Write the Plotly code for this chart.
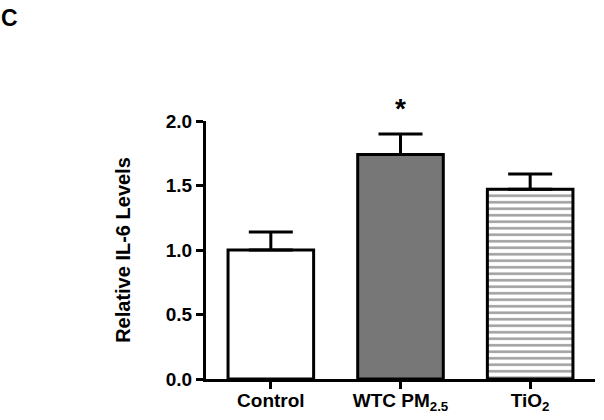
import plotly.graph_objects as go

# data
groups = ["Control", "WTC PM<sub>2.5</sub>", "TiO<sub>2</sub>"]
means = [1.00, 1.74, 1.47]
sem = [0.14, 0.16, 0.12]
y_ticks = [0.0, 0.5, 1.0, 1.5, 2.0]

fills = ["white", "#777777", "white"]
patterns = ["", "", "-"]

xpos = list(range(len(groups)))

fig = go.Figure()
fig.add_trace(go.Bar(
    x=xpos, y=means, width=0.66,
    marker=dict(
        color=fills,
        line=dict(color="black", width=3),
        pattern=dict(shape=patterns, fgcolor="black", bgcolor="white",
                     size=6.5, solidity=0.4, fillmode="overlay"),
    ),
    error_y=dict(type="data", array=sem, arrayminus=[0] * 3, symmetric=False,
                 color="black", thickness=3, width=22),
    cliponaxis=False,
))

bold = dict(family="Liberation Sans, Arial, sans-serif", size=19, color="black", weight="bold")

fig.update_layout(
    width=604, height=420,
    margin=dict(l=206, r=9, t=121, b=41),
    paper_bgcolor="white", plot_bgcolor="white",
    showlegend=False,
    font=bold,
    xaxis=dict(
        range=[-0.5, 2.5], tickmode="array", tickvals=xpos, ticktext=groups,
        showgrid=False, zeroline=False, showline=True, linecolor="black", linewidth=3,
        ticks="outside", ticklen=7, tickwidth=3, tickcolor="black",
        tickfont=bold, automargin=False, ticklabelstandoff=-5,
    ),
    yaxis=dict(
        range=[0, 2.0], tickmode="array", tickvals=y_ticks,
        ticktext=[f"{v:.1f}" for v in y_ticks],
        showgrid=False, zeroline=False, showline=True, linecolor="black", linewidth=3,
        ticks="outside", ticklen=7, tickwidth=3, tickcolor="black",
        tickfont=bold,
        title=dict(text="Relative IL-6 Levels", font=dict(bold, size=20), standoff=30),
    ),
)

# significance marker above WTC bar (paper coords so it is not hidden off-range)
fig.add_annotation(x=1, y=2.1 / 2.0, xref="x", yref="paper", text="*", showarrow=False,
                   font=dict(bold, size=28), yanchor="middle")
# panel letter
fig.add_annotation(x=-0.505, y=1.40, xref="paper", yref="paper", text="C", showarrow=False,
                   font=dict(bold, size=23), xanchor="center", yanchor="middle")

fig.write_html("out.html", config={"displayModeBar": False},
               post_script="document.body.style.margin='0';")
